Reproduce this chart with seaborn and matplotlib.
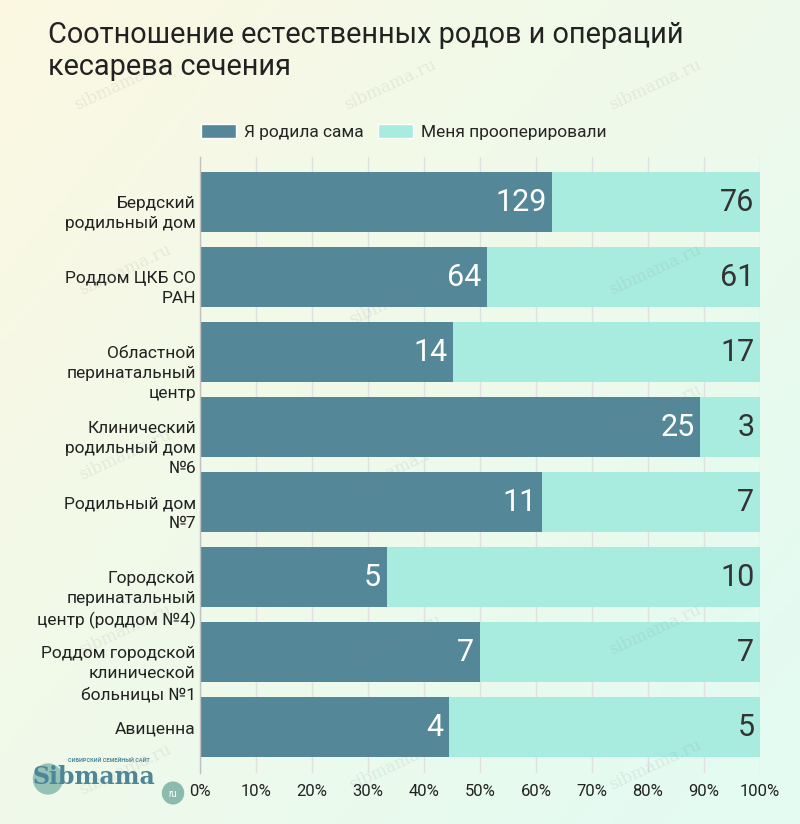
import numpy as np
import pandas as pd
import matplotlib
matplotlib.use('Agg')
import matplotlib.pyplot as plt
import matplotlib.transforms as mtransforms
from matplotlib.patches import Patch, Circle
import seaborn as sns

# data
hospitals = [
    'Бердский\nродильный дом',
    'Роддом ЦКБ СО\nРАН',
    'Областной\nперинатальный\nцентр',
    'Клинический\nродильный дом\n№6',
    'Родильный дом\n№7',
    'Городской\nперинатальный\nцентр (роддом №4)',
    'Роддом городской\nклинической\nбольницы №1',
    'Авиценна',
]
natural = [129, 64, 14, 25, 11, 5, 7, 4]
cesarean = [76, 61, 17, 3, 7, 10, 7, 5]
legend_labels = ['Я родила сама', 'Меня прооперировали']
x_ticks = [0, 10, 20, 30, 40, 50, 60, 70, 80, 90, 100]
title = 'Соотношение естественных родов и операций\nкесарева сечения'

dark = '#548797'
light = '#a8ebdf'
text_col = '#222222'

df = pd.DataFrame({'hospital': hospitals, 'natural': natural, 'cesarean': cesarean})
df['total'] = df['natural'] + df['cesarean']
df['nat_pct'] = df['natural'] / df['total'] * 100
df['full'] = 100.0

sns.set_theme(style='white')
plt.rcParams['font.family'] = ['Roboto', 'DejaVu Sans']

fig = plt.figure(figsize=(8, 8.24), dpi=100)

# soft diagonal background gradient
bg = fig.add_axes([0, 0, 1, 1], zorder=-10)
yy, xx = np.mgrid[0:1:200j, 0:1:200j]
t = np.clip(xx * 0.6 + yy * 0.5, 0, 1)
c0 = np.array([252, 248, 226]) / 255
c1 = np.array([228, 251, 241]) / 255
img = c0[None, None, :] * (1 - t[..., None]) + c1[None, None, :] * t[..., None]
bg.imshow(img, aspect='auto')
bg.axis('off')

# watermarks
for (wx, wy) in [(120, 85), (390, 85), (655, 85), (125, 270), (395, 300), (655, 270),
                 (125, 455), (395, 470), (655, 410), (125, 630), (395, 640), (655, 630),
                 (125, 770), (395, 765), (655, 765)]:
    fig.text(wx / 800, 1 - wy / 824, 'sibmama.ru', rotation=25, ha='center', va='center',
             fontsize=12, family='DejaVu Serif', color='#888888', alpha=0.14, zorder=5)

ax = fig.add_axes([0.25, 1 - 773 / 824, 0.70, 616 / 824])
ax.set_facecolor('none')

sns.barplot(data=df, x='full', y='hospital', color=light, width=0.8, orient='h',
            ax=ax, saturation=1, linewidth=0)
sns.barplot(data=df, x='nat_pct', y='hospital', color=dark, width=0.8, orient='h',
            ax=ax, saturation=1, linewidth=0)

ax.set_xlim(0, 100)
ax.set_ylim(7.61, -0.6)
ax.set_xlabel('')
ax.set_ylabel('')

ax.set_xticks(x_ticks)
ax.set_xticklabels([f'{v}%' for v in x_ticks], fontsize=12, color=text_col)
ax.xaxis.grid(True, color='#e0e0e0', lw=1)
ax.yaxis.grid(False)
ax.set_axisbelow(True)
for s in ['top', 'right', 'bottom']:
    ax.spines[s].set_visible(False)
ax.spines['left'].set_color('#c0c0c0')
ax.spines['left'].set_linewidth(1)
ax.tick_params(axis='x', length=0, pad=8)
ax.tick_params(axis='y', length=0, pad=3)

offset = mtransforms.ScaledTranslation(0, 4.2 / 72, fig.dpi_scale_trans)
for lab in ax.get_yticklabels():
    lab.set_fontsize(12.5)
    lab.set_color(text_col)
    lab.set_verticalalignment('top')
    lab.set_linespacing(1.42)
    lab.set_transform(lab.get_transform() + offset)

# value labels
for i, row in df.iterrows():
    ax.annotate(str(row['natural']), xy=(row['nat_pct'], i), xytext=(-4, 0),
                textcoords='offset points', ha='right', va='center',
                fontsize=22, color='white')
    ax.annotate(str(row['cesarean']), xy=(100, i), xytext=(-4, 0),
                textcoords='offset points', ha='right', va='center',
                fontsize=22, color='#333333')

handles = [Patch(facecolor=dark, label=legend_labels[0]),
           Patch(facecolor=light, label=legend_labels[1])]
fig.legend(handles=handles, loc='center', bbox_to_anchor=(0.505, 1 - 132 / 824), ncol=2,
           frameon=False, prop={'size': 12.5}, handlelength=2.0,
           handleheight=0.9, columnspacing=0.8, handletextpad=0.5)

fig.text(48 / 800, 1 - 21 / 824, title, ha='left', va='top', fontsize=20.8,
         color=text_col, linespacing=1.2)

# logo
fig.patches.append(Circle((48 / 800, 1 - 779 / 824), 0.019, transform=fig.transFigure,
                          facecolor='#7fb5a8', edgecolor='none', alpha=0.8))
fig.patches.append(Circle((173 / 800, 1 - 793 / 824), 0.014, transform=fig.transFigure,
                          facecolor='#7fb5a8', edgecolor='none', alpha=0.9))
fig.text(32 / 800, 1 - 777 / 824, 'Sibmama', ha='left', va='center', fontsize=17,
         fontweight='bold', family='DejaVu Serif', color='#4e8699')
fig.text(68 / 800, 1 - 760 / 824, 'СИБИРСКИЙ СЕМЕЙНЫЙ САЙТ', ha='left', va='center',
         fontsize=4, fontweight='bold', color='#4e8699')
fig.text(173 / 800, 1 - 794 / 824, 'ru', ha='center', va='center', fontsize=7, color='white')

fig.savefig('out.png', dpi=100)
